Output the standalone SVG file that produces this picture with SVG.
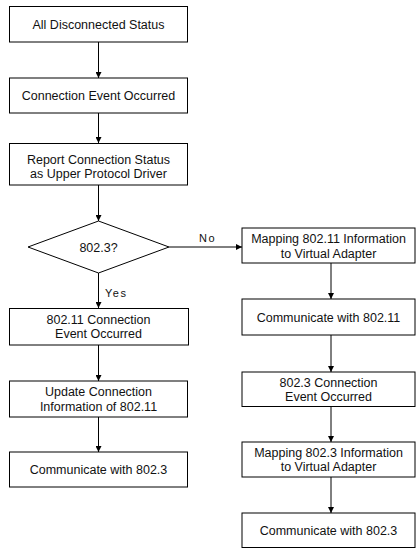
<svg xmlns="http://www.w3.org/2000/svg" width="416" height="549" viewBox="0 0 416 549">
<defs>
<style>
.box{fill:#fff;stroke:#000;stroke-width:1}
.t{font-family:"Liberation Sans",Arial,sans-serif;font-size:12.5px;fill:#111;text-anchor:middle}
.lbl{font-family:"Liberation Sans",Arial,sans-serif;font-size:11px;fill:#111;letter-spacing:1.5px}
.ln{stroke:#000;stroke-width:1;fill:none;marker-end:url(#ah)}
</style>
<marker id="ah" viewBox="0 0 10 10" refX="10" refY="5" markerWidth="6" markerHeight="6" markerUnits="userSpaceOnUse" orient="auto">
<path d="M0,0 L10,5 L0,10 z" fill="#000"/>
</marker>
</defs>
<rect width="416" height="549" fill="#fff"/>
<g id="connectors">
<line class="ln" x1="98.5" y1="42" x2="98.5" y2="78"/>
<line class="ln" x1="98.5" y1="113" x2="98.5" y2="143"/>
<line class="ln" x1="98.5" y1="185" x2="98.5" y2="221"/>
<line class="ln" x1="169" y1="247" x2="242" y2="247"/>
<line class="ln" x1="98.5" y1="273" x2="98.5" y2="308"/>
<line class="ln" x1="98.5" y1="345" x2="98.5" y2="381"/>
<line class="ln" x1="98.5" y1="417" x2="98.5" y2="452"/>
<line class="ln" x1="331" y1="263" x2="331" y2="299"/>
<line class="ln" x1="331" y1="335" x2="331" y2="372"/>
<line class="ln" x1="331" y1="406" x2="331" y2="442"/>
<line class="ln" x1="331" y1="477" x2="331" y2="513"/>
<text class="lbl" x="199" y="242">No</text>
<text class="lbl" x="105" y="297">Yes</text>
</g>
<g id="n1"><rect class="box" x="9.5" y="6.5" width="178" height="35.5"/><text class="t" x="98.5" y="28.5">All Disconnected Status</text></g>
<g id="n2"><rect class="box" x="9.5" y="78" width="178" height="35"/><text class="t" x="98.5" y="100">Connection Event Occurred</text></g>
<g id="n3"><rect class="box" x="9.5" y="143.5" width="178" height="41.5"/><text class="t" x="98.5" y="163.5">Report Connection Status</text><text class="t" x="98.5" y="178">as Upper Protocol Driver</text></g>
<g id="n4"><polygon class="box" points="98.5,221 169,247 98.5,273 28,247"/><text class="t" x="98.5" y="251.5">802.3?</text></g>
<g id="n5"><rect class="box" x="9.5" y="308.5" width="179" height="36.5"/><text class="t" x="98.5" y="323.5">802.11 Connection</text><text class="t" x="98.5" y="338">Event Occurred</text></g>
<g id="n6"><rect class="box" x="9.5" y="381" width="178" height="36"/><text class="t" x="98.5" y="396">Update Connection</text><text class="t" x="98.5" y="410.5">Information of 802.11</text></g>
<g id="n7"><rect class="box" x="9.5" y="452" width="178" height="35"/><text class="t" x="98.5" y="474">Communicate with 802.3</text></g>
<g id="n8"><rect class="box" x="242" y="228" width="173" height="35"/><text class="t" x="328.5" y="243">Mapping 802.11 Information</text><text class="t" x="328.5" y="257.5">to Virtual Adapter</text></g>
<g id="n9"><rect class="box" x="242" y="299" width="173" height="36"/><text class="t" x="328.5" y="321.5">Communicate with 802.11</text></g>
<g id="n10"><rect class="box" x="242" y="372" width="173" height="34.5"/><text class="t" x="328.5" y="386.5">802.3 Connection</text><text class="t" x="328.5" y="401">Event Occurred</text></g>
<g id="n11"><rect class="box" x="242" y="442" width="173" height="35"/><text class="t" x="328.5" y="456.5">Mapping 802.3 Information</text><text class="t" x="328.5" y="471">to Virtual Adapter</text></g>
<g id="n12"><rect class="box" x="242" y="513" width="173" height="34.5"/><text class="t" x="328.5" y="535">Communicate with 802.3</text></g>
</svg>
